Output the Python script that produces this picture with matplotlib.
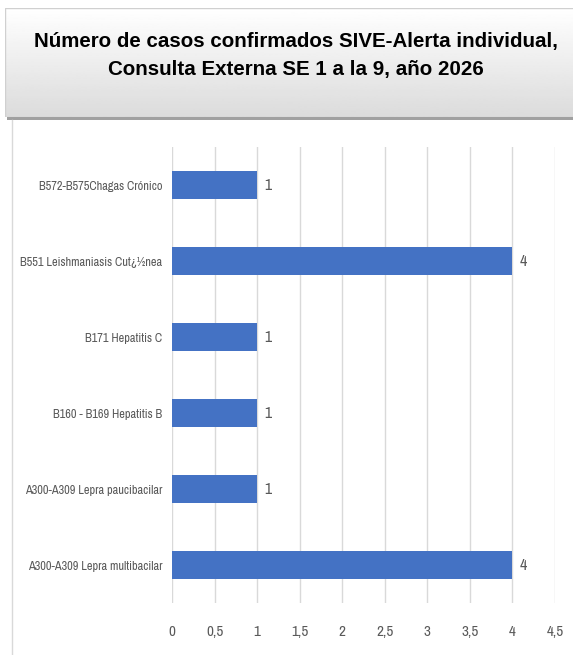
import numpy as np
import matplotlib.pyplot as plt
from matplotlib import font_manager
from matplotlib.patches import Rectangle
from matplotlib.lines import Line2D

categorias = [
    "A300-A309 Lepra multibacilar",
    "A300-A309 Lepra paucibacilar",
    "B160 - B169 Hepatitis B",
    "B171 Hepatitis C",
    "B551 Leishmaniasis Cut\u00bf\u00bdnea",
    "B572-B575Chagas Cr\u00f3nico",
]
casos = [4, 1, 1, 1, 4, 1]
xticks = [0, 0.5, 1, 1.5, 2, 2.5, 3, 3.5, 4, 4.5]
xticklabels = ["0", "0,5", "1", "1,5", "2", "2,5", "3", "3,5", "4", "4,5"]
titulo = "Número de casos confirmados SIVE-Alerta individual,\nConsulta Externa SE 1 a la 9, año 2026"

# look for a condensed face, the original uses a narrow Calibri-like font
nombres = sorted({f.name for f in font_manager.fontManager.ttflist})
narrow_names = [n for n in nombres if "Narrow" in n or "Condensed" in n]
if narrow_names:
    narrow = [narrow_names[0], "DejaVu Sans"]
    fs_lab = 8.9
else:
    narrow = ["Liberation Sans", "DejaVu Sans"]
    fs_lab = 7.5

W, H = 573, 655
fig = plt.figure(figsize=(W / 100, H / 100), dpi=100)
fig.patch.set_facecolor("white")

# title box: shadow then gradient
sax = fig.add_axes([7 / W, 1 - 120 / H, 1, 110 / H])
sax.add_patch(Rectangle((0, 0), 1, 1, facecolor="#a0a0a0", edgecolor="none"))
sax.set_axis_off()
tax = fig.add_axes([5 / W, 1 - 117 / H, 1, 109 / H])
grad = np.linspace(1.0, 0.86, 100).reshape(-1, 1)
tax.imshow(grad, aspect="auto", cmap="gray", vmin=0, vmax=1, extent=(0, 1, 0, 1))
tax.add_patch(Rectangle((0, 0), 1, 1, facecolor="none", edgecolor="#d0d0d0", lw=1))
tax.set_axis_off()
fig.text(296 / W, 1 - 55 / H, titulo, ha="center", va="center", fontsize=14.8,
         fontweight="bold", linespacing=1.6, family=["Liberation Sans", "DejaVu Sans"])

# chart area border
fig.add_artist(Line2D([12 / W, 12 / W], [0, 1 - 120 / H], transform=fig.transFigure,
                      color="#d9d9d9", lw=1))

ax = fig.add_axes([172 / W, 1 - 603 / H, (555 - 172) / W, (603 - 147) / H])
y = np.arange(len(categorias))
ax.barh(y, casos, height=0.36, color="#4472C4", zorder=2)
for yi, v in zip(y, casos):
    ax.text(v + 0.08, yi, str(v), va="center", ha="left", fontsize=fs_lab + 2.5,
            color="#595959", family=narrow)
ax.set_xlim(0, 4.5)
ax.set_ylim(-0.5, len(categorias) - 0.5)
ax.set_yticks(y)
ax.set_yticklabels(categorias, fontsize=fs_lab, color="#595959", family=narrow)
ax.set_xticks(xticks)
ax.set_xticklabels(xticklabels, fontsize=fs_lab + 2, color="#595959", family=narrow)
ax.tick_params(axis="y", length=0, pad=7)
ax.tick_params(axis="x", length=0, pad=16)
ax.grid(axis="x", color="#d9d9d9", lw=1, zorder=0)
for s in ax.spines.values():
    s.set_visible(False)

fig.savefig("out.png", dpi=100)
